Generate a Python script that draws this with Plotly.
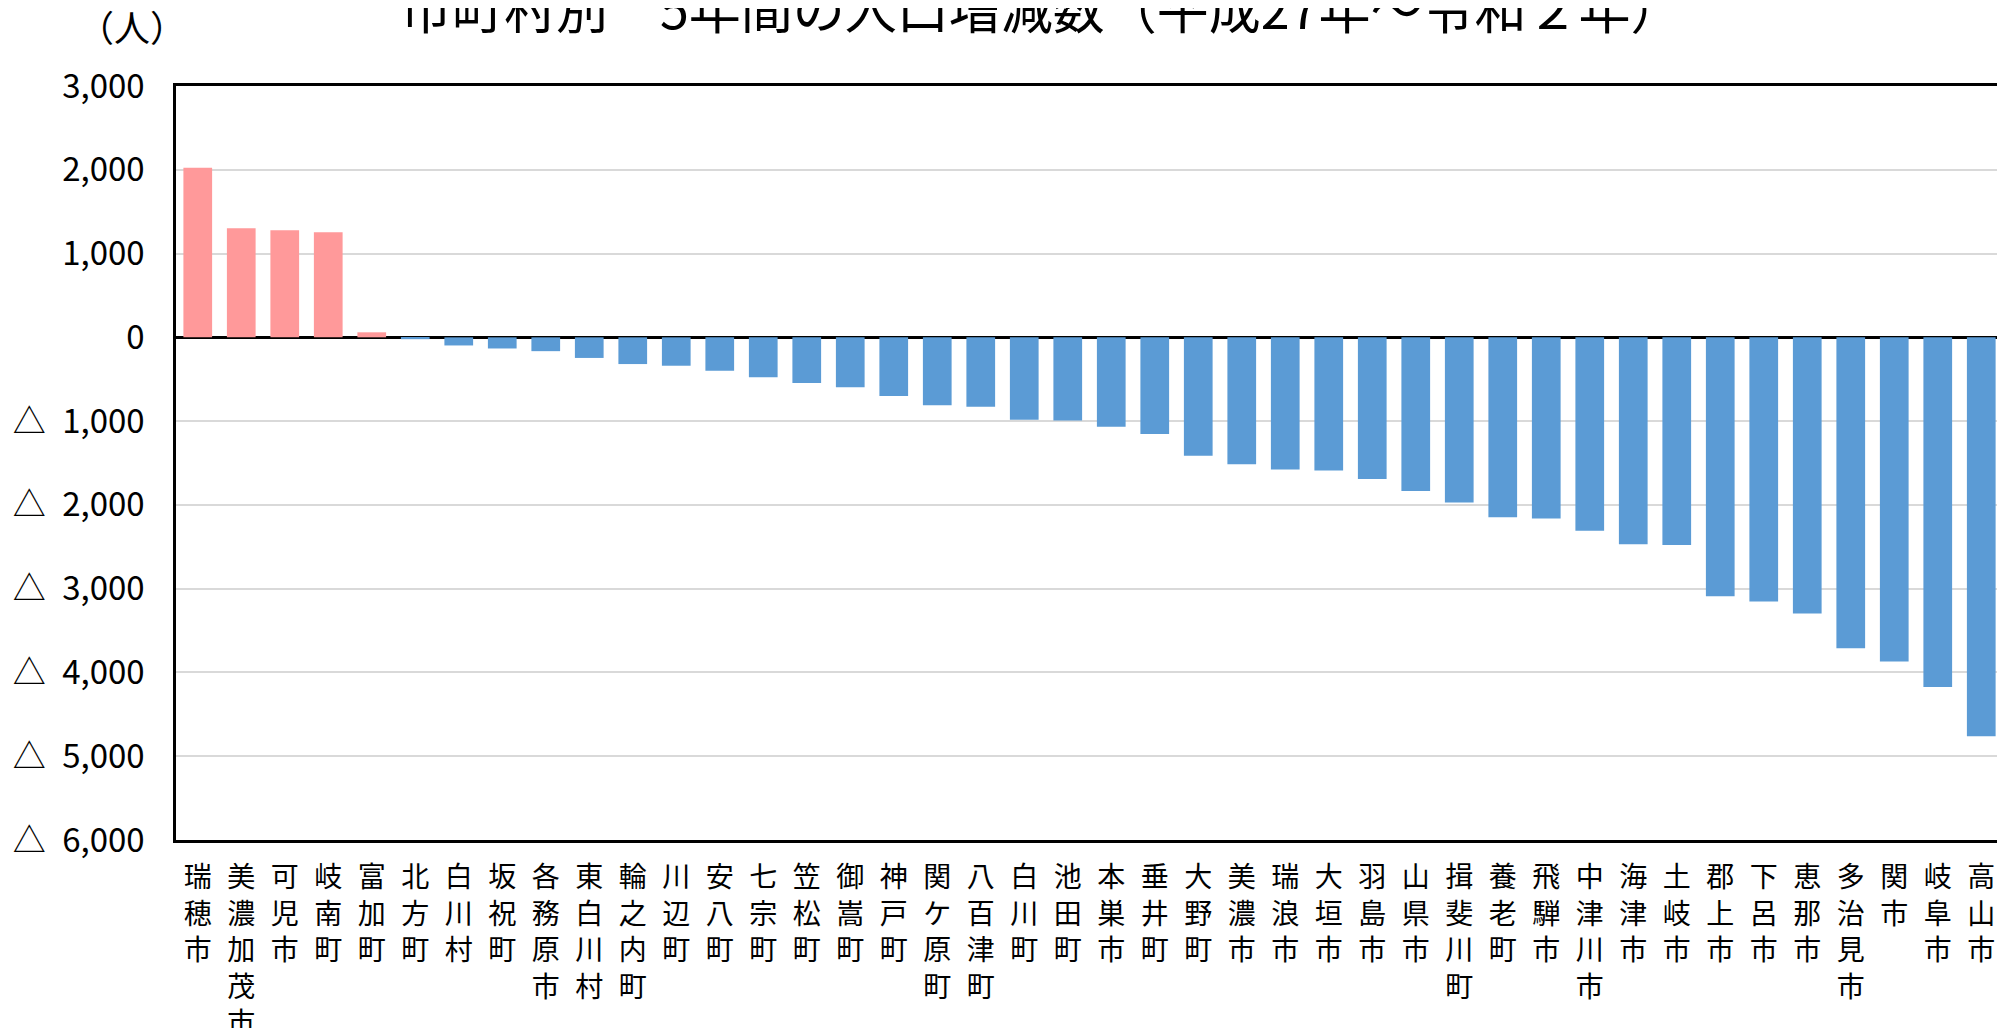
"""Population change by municipality, Gifu prefecture (H27 -> R2)."""

import plotly.graph_objects as go

FONT = "Noto Sans CJK JP"

municipalities = [
    "瑞穂市", "美濃加茂市", "可児市", "岐南町", "富加町", "北方町", "白川村",
    "坂祝町", "各務原市", "東白川村", "輪之内町", "川辺町", "安八町", "七宗町",
    "笠松町", "御嵩町", "神戸町", "関ケ原町", "八百津町", "白川町", "池田町",
    "本巣市", "垂井町", "大野町", "美濃市", "瑞浪市", "大垣市", "羽島市",
    "山県市", "揖斐川町", "養老町", "飛騨市", "中津川市", "海津市", "土岐市",
    "郡上市", "下呂市", "恵那市", "多治見市", "関市", "岐阜市", "高山市",
]
change = [
    2024, 1301, 1277, 1253, 60, -22, -97,
    -133, -165, -246, -319, -339, -399, -476,
    -544, -597, -700, -810, -829, -984, -992,
    -1067, -1155, -1413, -1516, -1579, -1591, -1690,
    -1833, -1972, -2147, -2163, -2310, -2470, -2478,
    -3090, -3154, -3297, -3711, -3870, -4173, -4762,
]
y_ticks = [3000, 2000, 1000, 0, -1000, -2000, -3000, -4000, -5000, -6000]

POS_COLOR = "#FF999A"
NEG_COLOR = "#5B9BD5"


def tick_label(v):
    # Japanese stat style: negatives shown with a triangle
    num = f"{abs(v):,}"
    if v < 0:
        return "△\u2002" + num
    return num


fig = go.Figure(
    go.Bar(
        x=municipalities,
        y=change,
        marker_color=[POS_COLOR if v > 0 else NEG_COLOR for v in change],
        marker_line_width=0,
        width=0.66,
    )
)

fig.update_xaxes(
    tickmode="array",
    tickvals=municipalities,
    ticktext=["<br>".join(name) for name in municipalities],
    tickangle=0,
    tickfont=dict(family=FONT, size=28, color="black"),
    ticks="",
    ticklabelstandoff=11,
    automargin=False,
    showline=True,
    linecolor="black",
    linewidth=2.5,
    mirror=True,
    showgrid=False,
)
fig.update_yaxes(
    range=[-6000, 3000],
    tickmode="array",
    tickvals=y_ticks,
    ticktext=[tick_label(v) for v in y_ticks],
    tickfont=dict(family=FONT, size=33, color="black"),
    ticks="",
    ticklabelstandoff=22,
    automargin=False,
    showline=True,
    linecolor="black",
    linewidth=2.5,
    mirror=True,
    showgrid=True,
    gridcolor="#D9D9D9",
    gridwidth=2,
    zeroline=True,
    zerolinecolor="black",
    zerolinewidth=3,
)

fig.add_annotation(
    text="（人）", xref="paper", yref="paper", x=-0.024, y=1.079,
    xanchor="center", yanchor="middle", showarrow=False,
    font=dict(family=FONT, size=36, color="black"),
)
fig.add_annotation(
    text="市町村別　5年間の人口増減数（平成27年～令和２年）",
    xref="paper", yref="paper", x=0.474, y=1.105,
    xanchor="center", yanchor="middle", showarrow=False,
    font=dict(family=FONT, size=52, color="black"),
)

# page body has an 8px default margin, so the figure is a bit smaller
fig.update_layout(
    width=1997,
    height=1020,
    margin=dict(l=168, r=2, t=78, b=188),
    plot_bgcolor="white",
    paper_bgcolor="white",
    showlegend=False,
    bargap=0.34,
)

fig.write_html("out.html")
